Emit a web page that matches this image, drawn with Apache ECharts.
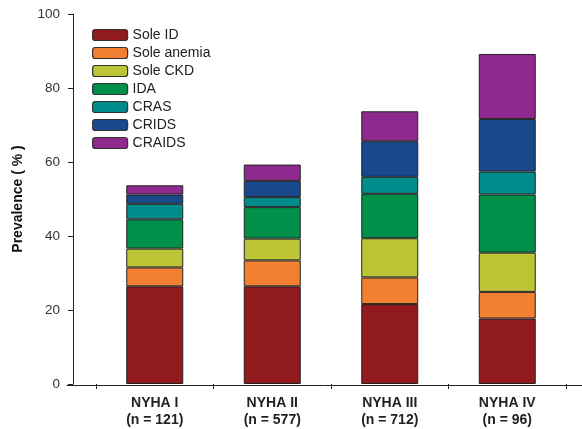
<!DOCTYPE html>
<html>
<head>
<meta charset="utf-8">
<script src="https://cdn.jsdelivr.net/npm/echarts@6/dist/echarts.min.js"></script>
<style>
  html, body { margin: 0; padding: 0; background: #fff; }
  #chart { width: 582px; height: 429px; }
</style>
</head>
<body>
<div id="chart"></div>
<script>
// NYHA functional class and group sizes
var nyhaClasses = ['NYHA I', 'NYHA II', 'NYHA III', 'NYHA IV'];
var groupSizes = [121, 577, 712, 96];

// Prevalence (%) of each comorbidity pattern per class
var soleID = [26.4, 26.4, 21.6, 17.7];
var soleAnemia = [5.1, 7.0, 7.2, 7.2];
var soleCKD = [5.1, 5.9, 10.6, 10.6];
var ida = [7.9, 8.5, 12.0, 15.7];
var cras = [4.2, 2.7, 4.6, 6.2];
var crids = [2.5, 4.4, 9.6, 14.2];
var craids = [2.5, 4.4, 8.1, 17.6];

var seriesNames = ['Sole ID', 'Sole anemia', 'Sole CKD', 'IDA', 'CRAS', 'CRIDS', 'CRAIDS'];
var seriesValues = [soleID, soleAnemia, soleCKD, ida, cras, crids, craids];
var seriesColors = ['#911a1d', '#f28030', '#bdc436', '#00904a', '#008c8a', '#17498c', '#8e2a8d'];

// Y axis ticks
var yMin = 0, yMax = 100, yStep = 20;

var categories = nyhaClasses.map(function (c, i) {
  return c + '\n(n = ' + groupSizes[i] + ')';
});

var font = "'Liberation Sans', Arial, sans-serif";

var chart = echarts.init(document.getElementById('chart'), null, { renderer: 'canvas' });

var series = seriesNames.map(function (name, i) {
  return {
    name: name,
    type: 'bar',
    stack: 'total',
    xAxisIndex: 0,
    yAxisIndex: 0,
    barWidth: 57,
    data: seriesValues[i],
    itemStyle: { color: seriesColors[i], borderColor: '#222', borderWidth: 1 },
    emphasis: { disabled: true }
  };
});

chart.setOption({
  animation: false,
  backgroundColor: '#fff',
  legend: {
    orient: 'vertical',
    left: 87,
    top: 23,
    itemWidth: 35,
    itemHeight: 11,
    itemGap: 4,
    icon: 'roundRect',
    itemStyle: { borderColor: '#333', borderWidth: 1.2 },
    textStyle: { fontFamily: font, fontSize: 14, color: '#222' },
    data: seriesNames
  },
  grid: [
    { left: 96, right: 16, top: 14, bottom: 44 },
    { left: 67, right: 0, top: 14, bottom: 44 }
  ],
  xAxis: [
    {
      type: 'category',
      gridIndex: 0,
      data: categories,
      boundaryGap: true,
      axisLine: { show: false },
      axisTick: { show: true, length: 5, lineStyle: { color: '#222', width: 1 } },
      axisLabel: {
        margin: 11,
        fontFamily: font,
        fontSize: 14,
        fontWeight: 'bold',
        color: '#222',
        lineHeight: 17
      }
    },
    {
      type: 'value',
      gridIndex: 1,
      min: 0,
      max: 1,
      axisLine: { show: true, lineStyle: { color: '#222', width: 1 } },
      axisTick: { show: false },
      axisLabel: { show: false },
      splitLine: { show: false }
    }
  ],
  yAxis: [
    {
      type: 'value',
      gridIndex: 0,
      min: yMin,
      max: yMax,
      interval: yStep,
      offset: 23,
      name: 'Prevalence ( % )',
      nameLocation: 'middle',
      nameGap: 48,
      nameTextStyle: { fontFamily: font, fontSize: 14, fontWeight: 'bold', color: '#111' },
      axisLine: { show: true, lineStyle: { color: '#222', width: 1 } },
      axisTick: { show: true, length: 5, lineStyle: { color: '#222', width: 1 } },
      axisLabel: { margin: 13, fontFamily: font, fontSize: 13.5, color: '#333' },
      splitLine: { show: false }
    },
    {
      type: 'value',
      gridIndex: 1,
      show: false
    }
  ],
  series: series
});
</script>
</body>
</html>
